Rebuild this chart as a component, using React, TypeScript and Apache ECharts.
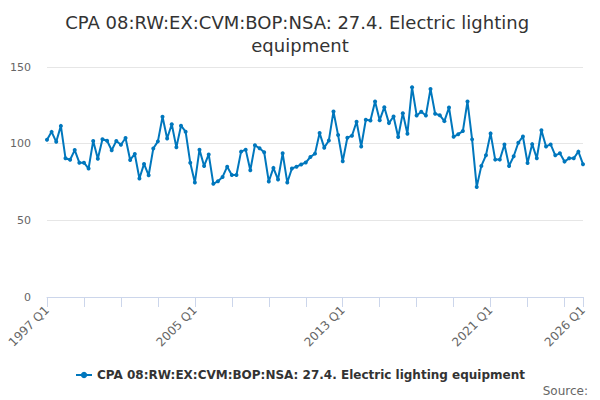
import React, { useRef, useEffect } from 'react'
import * as echarts from 'echarts'

// quarterly values
const values1997to2004 = [
  102.5, 107.7, 101.2, 111.6, 90.5, 89.5, 95.8, 87.6, 87.6, 83.8, 101.8, 90.2,
  102.9, 101.9, 95.7, 101.8, 99.3, 103.7, 89.4, 93.3, 77.3, 86.8, 79.4, 96.8,
  101.5, 117.5, 103.4, 112.7, 97.6, 111.7, 107.8, 87.6,
]
const values2005to2012 = [
  74.7, 96.1, 85.5, 93.0, 73.8, 75.5, 78.3, 85.0, 79.6, 79.6, 94.8, 96.1,
  82.7, 98.9, 97.0, 94.4, 75.3, 84.2, 76.6, 93.7, 74.7, 83.8, 85.0, 86.4,
  87.7, 91.3, 93.5, 106.9, 97.4, 102.1, 121.0, 105.6,
]
const values2013to2020 = [
  88.5, 103.9, 105.2, 114.3, 98.2, 115.6, 115.1, 127.5, 115.3, 123.8, 113.4, 117.7,
  104.3, 119.9, 106.5, 136.8, 118.4, 120.8, 118.4, 135.7, 119.5, 118.6, 114.7, 123.6,
  104.5, 106.2, 108.2, 127.5, 102.8, 71.8, 85.5, 92.4,
]
const values2021to2026 = [
  106.7, 89.6, 89.6, 99.5, 85.5, 91.8, 100.6, 104.7, 87.4, 99.7, 90.5, 108.8,
  98.2, 99.5, 92.4, 93.7, 88.3, 90.5, 90.5, 94.8, 86.6,
]
const values = [...values1997to2004, ...values2005to2012, ...values2013to2020, ...values2021to2026]

const firstYear = 1997
const quarters: string[] = []
for (let i = 0; i < values.length; i++) {
  quarters.push(`${firstYear + Math.floor(i / 4)} Q${(i % 4) + 1}`)
}

const yTicks = [0, 50, 100, 150]

const seriesName = 'CPA 08:RW:EX:CVM:BOP:NSA: 27.4. Electric lighting equipment'
const titleText = 'CPA 08:RW:EX:CVM:BOP:NSA: 27.4. Electric lighting equipment'

const font = 'DejaVu Sans'
const lineColor = '#0077bd'

function App() {
  const chartRef = useRef(null)

  useEffect(() => {
    const chart = echarts.init(chartRef.current, null, { renderer: 'svg' })
    const last = quarters.length - 1

    const option = {
      animation: false,
      title: {
        text: titleText,
        left: 'center',
        top: 6,
        textStyle: {
          fontFamily: font,
          fontSize: 18,
          fontWeight: 'normal',
          color: '#333333',
          width: 480,
          overflow: 'break',
          lineHeight: 23,
        },
      },
      grid: { left: 47, right: 17, top: 67, bottom: 103 },
      legend: {
        bottom: 14,
        left: 'center',
        itemWidth: 16,
        itemHeight: 8,
        textStyle: { fontFamily: font, fontSize: 12, fontWeight: 'bold', color: '#333333' },
        data: [seriesName],
      },
      xAxis: {
        type: 'category',
        boundaryGap: false,
        data: quarters,
        axisLine: { lineStyle: { color: '#ccd6eb' } },
        axisTick: {
          length: 10,
          interval: (i: number) => i % 8 === 0 || i === last,
          lineStyle: { color: '#ccd6eb' },
        },
        axisLabel: {
          interval: (i: number) => i % 32 === 0 || i === last,
          rotate: 45,
          margin: 11,
          fontFamily: font,
          fontSize: 12,
          color: '#666666',
        },
      },
      yAxis: {
        type: 'value',
        min: yTicks[0],
        max: yTicks[yTicks.length - 1],
        interval: 50,
        axisLine: { show: false },
        axisTick: { show: false },
        axisLabel: { margin: 16, fontFamily: font, fontSize: 11, color: '#666666' },
        splitLine: { lineStyle: { color: '#e6e6e6' } },
      },
      series: [
        {
          name: seriesName,
          type: 'line',
          data: values,
          symbol: 'circle',
          symbolSize: 4,
          showSymbol: true,
          showAllSymbol: true,
          lineStyle: { color: lineColor, width: 2 },
          itemStyle: { color: lineColor },
        },
      ],
      graphic: [
        {
          type: 'text',
          right: 12,
          bottom: 3,
          style: { text: 'Source:', font: `12px "${font}"`, fill: '#666666' },
        },
      ],
    }

    chart.setOption(option)

    return () => {
      chart.dispose()
    }
  }, [])

  return (
    <div
      ref={chartRef}
      style={{ position: 'absolute', left: 0, top: 0, width: 600, height: 400 }}
    ></div>
  )
}

export default App
